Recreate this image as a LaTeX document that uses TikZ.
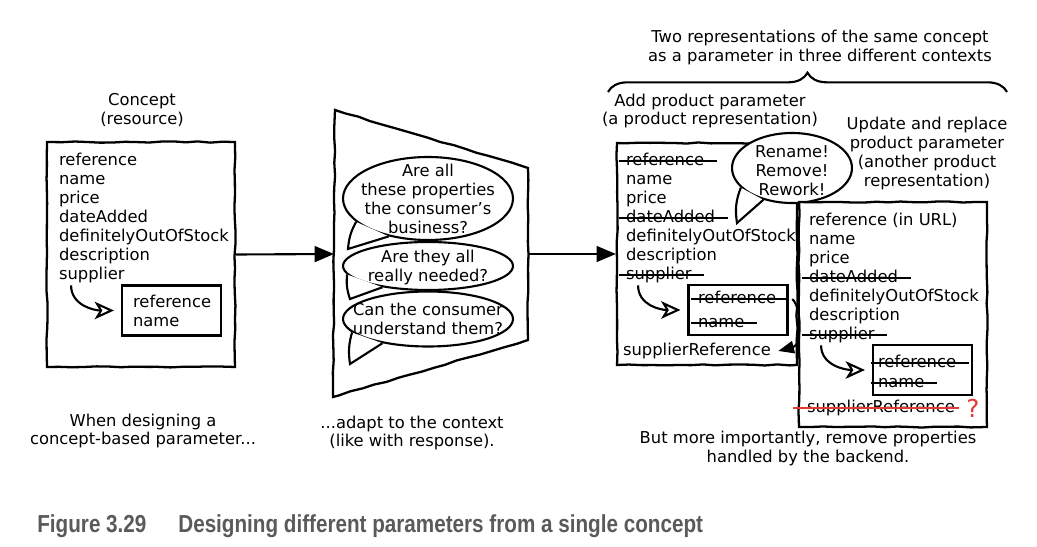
\documentclass[tikz,border=0pt]{standalone}
\usepackage{fontspec}
\setmainfont{DejaVu Sans}
\newfontfamily\capfont[FakeStretch=0.84]{Liberation Sans}
\usetikzlibrary{arrows.meta,shapes.geometric,decorations.pathmorphing,decorations.pathreplacing}
\definecolor{qred}{HTML}{E53935}
\definecolor{capgray}{HTML}{5A5A5A}
\begin{document}
\begin{tikzpicture}[x=0.02cm,y=-0.02cm,
  txt/.style={inner sep=1pt,font=\fontsize{9.3}{10.8}\selectfont},
  item/.style={txt,anchor=mid west},
  note/.style={txt,align=center},
  sketch/.style={draw,line width=1.3pt,fill=white,decorate,decoration={random steps,segment length=7pt,amplitude=0.35pt}},
  inbox/.style={draw,line width=1.2pt,fill=white,minimum width=1.98cm,minimum height=1cm,inner sep=0pt},
  bubble/.style={ellipse,draw,line width=1.2pt,fill=white,inner sep=0pt,minimum width=3.4cm},
  tail/.style={line width=1.2pt},
  strike/.style={line width=1.1pt},
  flow/.style={line width=1.2pt,-{Triangle[length=11pt,width=9pt]}},
  turn/.style={line width=1.2pt,-{Stealth[open,length=11pt,width=10pt,inset=3pt]}},
  caption/.style={anchor=base west,inner sep=0pt,text=capgray,font=\fontsize{14}{16}\selectfont\capfont\bfseries}]
\pgfmathsetseed{7}
\fill[white] (0,0) rectangle (1037,547);
\useasboundingbox (0,0) rectangle (1037,547);

% concept
\node[note] (ctitle) at (142,110) {Concept\\(resource)};
\node[sketch,minimum width=3.76cm,minimum height=4.5cm] (concept) at (141,254.5) {};
\foreach \t [count=\i from 0] in {reference,name,price,dateAdded,definitelyOutOfStock,description,supplier}
  \node[item] (c\i) at (57,161+19*\i) {\t};
\node[inbox] (cin) at (171.5,310.5) {};
\node[item] (cin0) at (131,303) {reference};
\node[item] (cin1) at (131,322) {name};
\draw[turn] ([xshift=8pt]c6.south west) .. controls +(0,20) and +(-20,0) .. ([xshift=-4pt]cin.west);
\node[note] (cfoot) at (143,431) {When designing a\\concept-based parameter...};

% funnel
\coordinate (funnel-in) at (334,254);
\coordinate (funnel-out) at (528,254);
\draw[sketch] (335,110) -- (528,168) -- (528,340) -- (333,397) -- cycle;
\draw[flow] (concept.east) -- (funnel-in);

\node[bubble,minimum height=1.66cm] (q1) at (428,198.5) {};
\fill[white] (q1.198) to[bend right=12] (348,249) -- (q1.224) -- cycle;
\draw[tail] (q1.198) to[bend right=12] (348,249) -- (q1.224);
\node[note] (q1t) at (428,199) {Are all\\these properties\\the consumer’s\\business?};
\node[bubble,minimum height=0.96cm] (q2) at (428,266) {};
\fill[white] (q2.186) to[bend right=12] (350,299) -- (q2.205) -- cycle;
\draw[tail] (q2.186) to[bend right=12] (350,299) -- (q2.205);
\node[note] (q2t) at (428,267.5) {Are they all\\really needed?};
\node[bubble,minimum height=1.1cm] (q3) at (428,319) {};
\fill[white] (q3.190) to[bend right=12] (350,364) -- (q3.208) -- cycle;
\draw[tail] (q3.190) to[bend right=12] (350,364) -- (q3.208);
\node[note] (q3t) at (428,318.5) {Can the consumer\\understand them?};
\node[note] (ffoot) at (412,433) {...adapt to the context\\(like with response).};

% add product
\node[note] (btitle) at (820,47.5) {Two representations of the same concept\\as a parameter in three different contexts};
\draw[line width=1.2pt,decorate,decoration={brace,amplitude=11pt}] (608,92) -- (1007,92);
\node[note] (atitle) at (710,111) {Add product parameter\\(a product representation)};
\node[sketch,minimum width=3.6cm,minimum height=4.44cm] (addbox) at (707,254) {};
\draw[flow] (funnel-out) -- (addbox.west);
\foreach \t [count=\i from 0] in {reference,name,price,dateAdded,definitelyOutOfStock,description,supplier}
  \node[item] (a\i) at (624,161+19*\i) {\t};
\node[inbox] (ain) at (738,310) {};
\node[item] (ain0) at (696,299) {reference};
\node[item] (ain1) at (696,323) {name};
\node[item] (aref) at (621,351) {supplierReference};
\foreach \n in {a0,a3,a6,ain0,ain1}
  \draw[strike] ([xshift=-3pt]\n.mid west) -- ([xshift=6pt]\n.mid east);
\draw[turn] ([xshift=8pt]a6.south west) .. controls +(0,20) and +(-20,0) .. ([xshift=-4pt]ain.west);

\node[bubble,minimum width=2.4cm,minimum height=1.4cm] (rb) at (792,168) {};
\fill[white] (rb.201) to[bend right=15] (737,223) -- (rb.228) -- cycle;
\draw[tail] (rb.201) to[bend right=15] (737,223) -- (rb.228);
\node[note] (rbt) at (792,171) {Rename!\\Remove!\\Rework!};

% update and replace
\node[note] (utitle) at (927,153.5) {Update and replace\\product parameter\\(another product\\representation)};
\node[sketch,minimum width=3.76cm,minimum height=4.5cm] (updbox) at (893,314.5) {};
\foreach \t [count=\i from 0] in {reference (in URL),name,price,dateAdded,definitelyOutOfStock,description,supplier}
  \node[item] (u\i) at (807,221+19*\i) {\t};
\node[inbox] (uin) at (922.5,370) {};
\node[item] (uin0) at (876,363) {reference};
\node[item] (uin1) at (876,383) {name};
\node[item] (uref) at (805,408) {supplierReference};
\foreach \n in {u3,u6,uin0,uin1}
  \draw[strike] ([xshift=-3pt]\n.mid west) -- ([xshift=6pt]\n.mid east);
\draw[strike,qred] ([xshift=-7pt]uref.mid west) -- ([xshift=1pt]uref.mid east);
\node[txt,text=qred,font=\fontsize{14}{14}\selectfont] (uq) at (973,408) {?};
\draw[turn] ([xshift=8pt]u6.south west) .. controls +(0,20) and +(-20,0) .. ([xshift=-4pt]uin.west);
\draw[line width=1.2pt,-{Triangle[length=9pt,width=7pt]}] ([xshift=8pt]ain0.mid east) .. controls (802,308) and (802,345) .. ([xshift=3pt]aref.mid east);
\node[note] (ufoot) at (808,448.5) {But more importantly, remove properties\\handled by the backend.};

% caption
\node[caption] (fig) at (37,532) {Figure 3.29};
\node[caption] (figtext) at (178,532) {Designing different parameters from a single concept};
\end{tikzpicture}
\end{document}
